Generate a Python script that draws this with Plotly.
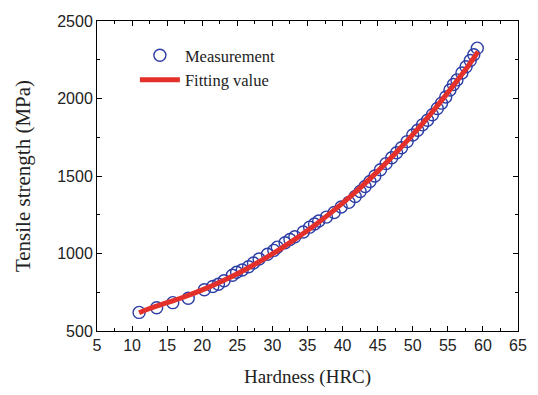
import plotly.graph_objects as go

# Measured points (HRC, MPa)
hardness = [11.0, 13.5, 15.8, 18.0, 20.3, 21.5, 22.3, 23.1, 24.3, 24.9, 25.7, 26.6, 27.3,
            28.1, 29.3, 30.2, 30.7, 31.8, 32.5, 33.2, 34.4, 35.3, 36.0, 36.6, 37.7, 38.8,
            39.8, 40.9, 41.8, 42.5, 43.2, 43.9, 44.6, 45.4, 46.2, 47.0, 47.7, 48.4, 49.2,
            50.0, 50.7, 51.4, 52.1, 52.8, 53.5, 54.1, 54.7, 55.3, 55.8, 56.3, 57.0, 57.6,
            58.2, 58.7, 59.2]
strength = [620, 650, 683, 711, 766, 787, 802, 824, 860, 879, 894, 915, 939,
            965, 995, 1020, 1041, 1069, 1090, 1108, 1139, 1170, 1190, 1210, 1235, 1265,
            1300, 1330, 1368, 1400, 1432, 1465, 1500, 1540, 1580, 1618, 1650, 1682, 1722,
            1765, 1795, 1830, 1860, 1895, 1935, 1970, 2010, 2055, 2090, 2120, 2165, 2205,
            2245, 2282, 2325]

# Fitted curve
fit_x = [11, 12.5, 15, 17.5, 20, 22.5, 25, 27.5, 30, 32.5, 35, 37.5, 40,
         42.5, 45, 47.5, 50, 52.5, 55, 57.5, 59.3]
fit_y = [618, 645, 683, 721, 765, 815, 870, 931, 997, 1070, 1148, 1233, 1325,
         1424, 1530, 1645, 1767, 1898, 2038, 2185, 2303]

blue = "#2c3da5"
red = "#e4302a"

fig = go.Figure()
fig.add_trace(go.Scatter(
    x=hardness, y=strength, mode="markers", name="Measurement",
    marker=dict(symbol="circle-open", size=12, color=blue, line=dict(width=1.4, color=blue)),
))
fig.add_trace(go.Scatter(
    x=fit_x, y=fit_y, mode="lines", name="Fitting value",
    line=dict(color=red, width=5, shape="spline", smoothing=1.0),
))

axis_common = dict(
    showline=True, linecolor="black", linewidth=1, mirror="ticks",
    ticks="inside", ticklen=5, tickwidth=1, tickcolor="black",
    showgrid=False, zeroline=False,
    tickfont=dict(family="Liberation Sans, Arial, sans-serif", size=16, color="#222"),
)

serif = "Liberation Serif, Times New Roman, serif"

fig.update_xaxes(
    range=[5, 65], dtick=5, tick0=5,
    minor=dict(dtick=2.5, ticks="inside", ticklen=3, tickcolor="black", showgrid=False),
    title=dict(text="Hardness (HRC)", font=dict(family=serif, size=19, color="#222"), standoff=16),
    **axis_common,
)
fig.update_yaxes(
    range=[500, 2500], dtick=500, tick0=500,
    minor=dict(dtick=250, ticks="inside", ticklen=3, tickcolor="black", showgrid=False),
    title=dict(text="Tensile strength (MPa)", font=dict(family=serif, size=21, color="#222"), standoff=20),
    **axis_common,
)

fig.update_layout(
    width=538, height=395,
    margin=dict(l=97, r=11, t=21, b=61),
    paper_bgcolor="white", plot_bgcolor="white",
    showlegend=True,
    legend=dict(
        x=0.09, y=0.945, xanchor="left", yanchor="top",
        bgcolor="rgba(0,0,0,0)", borderwidth=0,
        font=dict(family=serif, size=16.5, color="#222"),
        tracegroupgap=2, itemwidth=40,
    ),
)

fig.write_html("out.html")
